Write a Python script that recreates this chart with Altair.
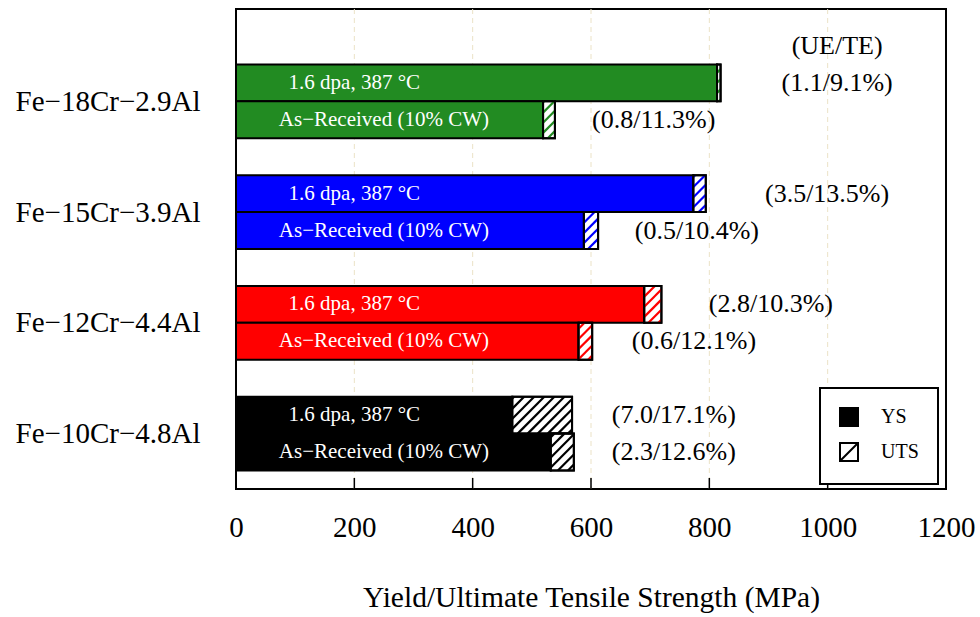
import math
import altair as alt
import pandas as pd

# ---------------- data ----------------
alloys = ["Fe−18Cr−2.9Al", "Fe−15Cr−3.9Al", "Fe−12Cr−4.4Al", "Fe−10Cr−4.8Al"]
colors = ["#228b22", "#0000ff", "#ff0000", "#000000"]
conditions = ["1.6 dpa, 387 °C", "As−Received (10% CW)"]

ys_irr = [813, 773, 690, 467]
uts_irr = [819, 794, 719, 568]
ys_ar = [519, 588, 579, 532]
uts_ar = [539, 612, 602, 571]

ue_irr = [1.1, 3.5, 2.8, 7.0]
te_irr = [9.1, 13.5, 10.3, 17.1]
ue_ar = [0.8, 0.5, 0.6, 2.3]
te_ar = [11.3, 10.4, 12.1, 12.6]

# where the (UE/TE) notes sit, in MPa
note_x_irr = [1016, 999, 904, 740]
note_x_ar = [706, 779, 774, 740]
header_text = "(UE/TE)"
header_x = 1016
cond_label_x = [200, 250]

x_ticks = [0, 200, 400, 600, 800, 1000, 1200]
legend_keys = ["YS", "UTS"]

FONT = "Liberation Serif"
HATCH_STEP = 17.0   # MPa between hatch lines
HATCH_RUN = 62.0    # MPa of horizontal run over one bar height

# ---------------- tables ----------------
rows = []
hatch = []
for g, alloy in enumerate(alloys):
    series = [
        (ys_irr[g], uts_irr[g], ue_irr[g], te_irr[g], note_x_irr[g]),
        (ys_ar[g], uts_ar[g], ue_ar[g], te_ar[g], note_x_ar[g]),
    ]
    for c, (ys, uts, ue, te, nx) in enumerate(series):
        r = 3 * g + c
        rows.append(dict(alloy=alloy, cond=conditions[c], ys=ys, uts=uts,
                         top=r, bottom=r + 1, mid=r + 0.5,
                         note=f"({ue:.1f}/{te:.1f}%)", note_x=nx,
                         label_x=cond_label_x[c]))
        L, R = ys, uts
        n0 = math.floor((L - HATCH_RUN) / HATCH_STEP)
        n1 = math.ceil(R / HATCH_STEP)
        for n in range(n0, n1 + 1):
            a = n * HATCH_STEP
            u0 = max(0.0, (L - a) / HATCH_RUN)
            u1 = min(1.0, (R - a) / HATCH_RUN)
            if u1 - u0 > 1e-6:
                hatch.append(dict(alloy=alloy, hx=a + HATCH_RUN * u0,
                                  hx2=a + HATCH_RUN * u1,
                                  hy=r + 1 - u0, hy2=r + 1 - u1))

df = pd.DataFrame(rows)
hatch_df = pd.DataFrame(hatch)
notes_df = pd.concat([df[["note", "note_x", "mid"]],
                      pd.DataFrame([dict(note=header_text, note_x=header_x, mid=-0.5)])],
                     ignore_index=True)
ticks_df = pd.DataFrame({"t": x_ticks})
grid_df = pd.DataFrame({"t": x_ticks[1:-1]})
legend_df = pd.DataFrame({"k": legend_keys})

# ---------------- scales / axes ----------------
x_scale = alt.Scale(domain=[0, 1200], nice=False, zero=False)
y_scale = alt.Scale(domain=[-1.5, 11.5], reverse=True, nice=False, zero=False)
color_scale = alt.Scale(domain=alloys, range=colors)

label_expr = ""
for g, a in enumerate(alloys):
    label_expr += f"datum.value == {3 * g + 1} ? '{a}' : "
label_expr += "''"

x_axis = alt.Axis(values=x_ticks, format="d", title="Yield/Ultimate Tensile Strength (MPa)",
                  labelFont=FONT, labelFontSize=29, labelColor="black",
                  labelPadding=24, ticks=False, domain=False, grid=False,
                  titleFont=FONT, titleFontSize=29.5, titleFontWeight="normal",
                  titleColor="black", titlePadding=41, labelFlush=False)
y_axis = alt.Axis(values=[1, 4, 7, 10], labelExpr=label_expr, title=None,
                  labelFont=FONT, labelFontSize=29, labelColor="black",
                  labelPadding=36, labelLimit=400, ticks=False, domain=False,
                  grid=False)


def X(field):
    return alt.X(field, scale=x_scale, axis=x_axis)


def Y(field):
    return alt.Y(field, scale=y_scale, axis=y_axis)


base = alt.Chart(df)

grid = alt.Chart(grid_df).mark_rule(color="#ebe2c6", strokeWidth=1,
                                    strokeDash=[5, 4]).encode(
    x=X("t:Q"),
    y=alt.value(0),
    y2=alt.value(480),
)

ys_bars = base.mark_rect(stroke="black", strokeWidth=2).transform_calculate(
    base="0"
).encode(
    x=X("base:Q"),
    x2="ys:Q",
    y=Y("top:Q"),
    y2="bottom:Q",
    color=alt.Color("alloy:N", scale=color_scale, legend=None),
)

uts_white = base.mark_rect(fill="white", stroke="black", strokeWidth=2).encode(
    x=X("ys:Q"),
    x2="uts:Q",
    y=Y("top:Q"),
    y2="bottom:Q",
)

hatch_layer = alt.Chart(hatch_df).mark_rule(strokeWidth=2.2).encode(
    x=X("hx:Q"),
    x2="hx2:Q",
    y=Y("hy:Q"),
    y2="hy2:Q",
    color=alt.Color("alloy:N", scale=color_scale, legend=None),
)

uts_outline = base.mark_rect(fillOpacity=0, stroke="black", strokeWidth=2).encode(
    x=X("ys:Q"),
    x2="uts:Q",
    y=Y("top:Q"),
    y2="bottom:Q",
)

inner_text = base.mark_text(font=FONT, fontSize=21, color="white",
                            align="center", baseline="middle").encode(
    x=X("label_x:Q"),
    y=Y("mid:Q"),
    text="cond:N",
)

notes = alt.Chart(notes_df).mark_text(font=FONT, fontSize=26, color="black",
                                      align="center", baseline="middle").encode(
    x=X("note_x:Q"),
    y=Y("mid:Q"),
    text="note:N",
)

ticks = alt.Chart(ticks_df).mark_rule(color="black", strokeWidth=1.5).encode(
    x=X("t:Q"),
    y=alt.value(480),
    y2=alt.value(469),
)

leg_props = dict(orient="none", legendX=584, legendY=379, title=None,
                 padding=19, strokeColor="black", fillColor="white",
                 labelFont=FONT, labelFontSize=20, labelColor="black",
                 labelOffset=22, rowPadding=9, symbolSize=324,
                 symbolStrokeWidth=2, symbolOpacity=1)
legend_layer = alt.Chart(legend_df).mark_point(filled=True, opacity=0, size=324,
                                                strokeWidth=2).encode(
    shape=alt.Shape("k:N", scale=alt.Scale(domain=legend_keys,
                                           range=["square", "M-1,-1H1V1H-1ZM-1,1L1,-1"]),
                    legend=alt.Legend(**leg_props)),
    fill=alt.Fill("k:N", scale=alt.Scale(domain=legend_keys, range=["black", "white"]),
                  legend=alt.Legend(**leg_props)),
    stroke=alt.Stroke("k:N", scale=alt.Scale(domain=legend_keys, range=["black", "black"]),
                      legend=alt.Legend(**leg_props)),
)

chart = alt.layer(
    grid, ys_bars, uts_white, hatch_layer, uts_outline, inner_text, notes, ticks,
    legend_layer
).properties(
    width=710, height=480,
    autosize=alt.AutoSizeParams(type="none"),
    padding={"left": 236, "top": 9, "right": 34, "bottom": 128},
).configure(font=FONT).configure_view(
    stroke="black", strokeWidth=2
).configure_legend(strokeWidth=2)

chart.save("out.html", embed_options={"renderer": "svg", "actions": False})
